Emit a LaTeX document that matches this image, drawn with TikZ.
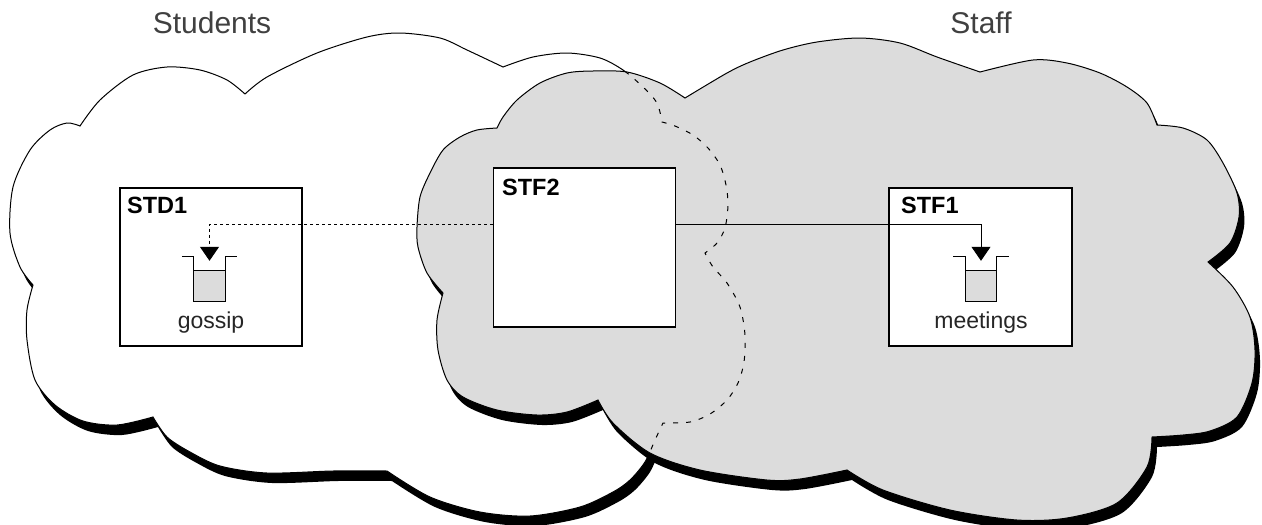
\documentclass[tikz,border=0pt]{standalone}
\usepackage{fontspec}
\setmainfont{Liberation Sans}
\usetikzlibrary{arrows.meta}
\definecolor{cloudgrey}{RGB}{220,220,220}

\newcommand{\studentscloud}{%
  plot[smooth] coordinates {(33,285) (20,267) (10,233) (13,187) (30,150) (50,130) (67,123) (80,126)}
  -- plot[smooth] coordinates {(80,126) (100,100) (133,75) (167,67) (200,70) (227,80) (245,94)}
  -- plot[smooth] coordinates {(245,94) (267,77) (317,53) (367,37) (400,33) (440,38) (467,50) (503,67)}
  -- plot[smooth] coordinates {(503,67) (533,57) (567,53) (600,58) (623,70) (643,87) (657,103) (662,122)}
  -- plot[smooth] coordinates {(662,122) (675,126) (693,135) (708,148) (720,165) (726,185) (728,205) (725,228) (717,243) (705,253)}
  -- plot[smooth] coordinates {(705,253) (713,267) (727,283) (740,307) (745,335) (744,362) (738,383) (727,400) (710,414) (690,422) (663,423)}
  -- plot[smooth] coordinates {(663,423) (655,440) (645,462) (630,480) (613,492) (580,507) (530,516) (480,512) (430,497) (387,471)}
  -- plot[smooth] coordinates {(387,471) (333,471) (267,473) (220,466) (190,452) (167,437) (153,417)}
  -- plot[smooth] coordinates {(153,417) (117,425) (83,421) (55,405) (35,380) (27,340) (27,310) (33,285)}
  -- cycle}
\newcommand{\staffcloud}{%
  plot[smooth] coordinates {(443,293) (427,273) (418,247) (417,227) (420,197) (430,173) (443,150) (460,137) (477,130) (497,128)}
  -- plot[smooth] coordinates {(497,128) (503,117) (517,100) (540,83) (567,73) (593,71) (627,72) (660,83) (685,98)}
  -- plot[smooth] coordinates {(685,98) (727,73) (750,62) (783,50) (817,42) (860,38) (900,43) (937,57) (980,72)}
  -- plot[smooth] coordinates {(980,72) (1033,60) (1067,63) (1100,73) (1127,87) (1147,103) (1157,125)}
  -- plot[smooth] coordinates {(1157,125) (1183,128) (1207,140) (1223,163) (1237,193) (1239,217) (1230,243) (1208,262)}
  -- plot[smooth] coordinates {(1208,262) (1233,287) (1250,317) (1255,350) (1252,383) (1237,417) (1210,431) (1183,435) (1152,437)}
  -- plot[smooth] coordinates {(1152,437) (1147,467) (1117,503) (1067,518) (1017,520) (950,510) (883,490) (847,470)}
  -- plot[smooth] coordinates {(847,470) (800,479) (767,480) (700,470) (650,453) (613,423) (598,400)}
  -- plot[smooth] coordinates {(598,400) (567,412) (537,415) (497,410) (463,397) (447,380) (438,350) (437,320) (443,293)}
  -- cycle}

\begin{document}
\begin{tikzpicture}[x=1pt, y=-1pt, >={Triangle[width=19pt,length=14pt]},
  cloudshadow/.style={fill=black, shift={(5,10)}},
  box/.style={draw, fill=white, line width=1.2pt, minimum width=182pt, minimum height=158pt, inner sep=0pt},
  title/.style={font=\fontsize{23.5}{28}\selectfont\bfseries, anchor=base west, inner sep=0pt},
  group/.style={font=\fontsize{30}{36}\selectfont, text=black!75, anchor=base, inner sep=0pt},
  qlabel/.style={font=\fontsize{23}{28}\selectfont, text=black!85, anchor=base, inner sep=0pt},
  cup/.style={minimum width=31pt, minimum height=44pt, inner sep=0pt},
  hidden/.style={line width=1pt, dash pattern=on 5pt off 8pt},
  flow/.style={line width=1pt}]
  \useasboundingbox (0,0) rectangle (1262,525);

  \fill[cloudshadow] \studentscloud;
  \filldraw[fill=white, line width=1pt] \studentscloud;
  \fill[cloudshadow] \staffcloud;
  \filldraw[fill=cloudgrey, line width=1pt] \staffcloud;
  \begin{scope}
    \clip \staffcloud;
    \draw[hidden] \studentscloud;
  \end{scope}

  \draw (212,33)node[group](students){Students};
  \draw (981,33)node[group](staff){Staff};

  \draw (211,267)node[box](std1){};
  \draw (584.5,247.5)node[box, minimum height=159pt](stf2){};
  \draw (980.5,267)node[box, minimum width=183pt](stf1){};
  \draw (127,213)node[title](std1t){STD1};
  \draw (502,195)node[title](stf2t){STF2};
  \draw (901,213)node[title](stf1t){STF1};

  \draw (209.5,279)node[cup](gq){};
  \draw (981,279)node[cup](mq){};
  \foreach \q in {gq, mq} {
    \fill[cloudgrey] (\q.south west) rectangle ([yshift=-14pt]\q.north east);
    \draw[line width=1.2pt] ([xshift=-12pt]\q.north west) -- (\q.north west) -- (\q.south west)
      -- (\q.south east) -- (\q.north east) -- ([xshift=12pt]\q.north east);
    \draw[line width=1.2pt] ([yshift=-14pt]\q.north west) -- ([yshift=-14pt]\q.north east);
  }
  \draw (211,328)node[qlabel](gossip){gossip};
  \draw (981,328)node[qlabel](meetings){meetings};

  \coordinate (lvl) at (0,224);
  \draw[flow, dash pattern=on 3pt off 3pt, ->] (stf2.west |- lvl) -| ([yshift=-4pt]gq.north);
  \draw[flow, ->] (stf2.east |- lvl) -| ([yshift=-4pt]mq.north);
\end{tikzpicture}
\end{document}
